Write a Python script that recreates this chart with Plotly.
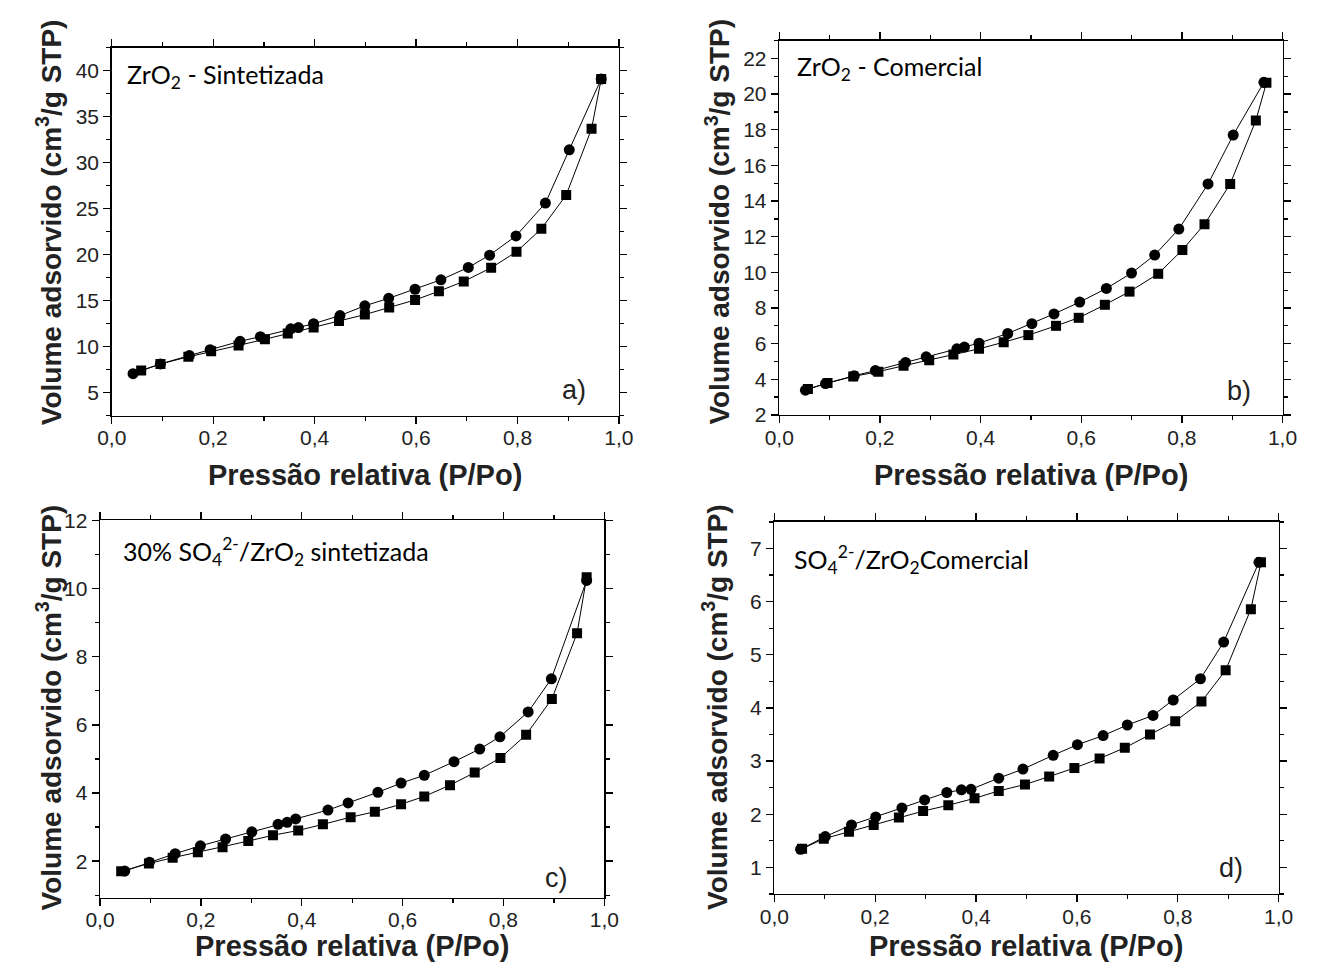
import plotly.graph_objects as go

# ---------------- data ----------------
# a) ZrO2 - Sintetizada
pa_ads = [0.058, 0.096, 0.151, 0.196, 0.250, 0.302, 0.347, 0.398, 0.448, 0.499,
          0.547, 0.598, 0.645, 0.694, 0.748, 0.798, 0.847, 0.896, 0.946, 0.965]
va_ads = [7.40, 8.11, 8.89, 9.49, 10.13, 10.80, 11.43, 12.07, 12.78, 13.48,
          14.26, 15.07, 16.03, 17.09, 18.57, 20.31, 22.82, 26.49, 33.70, 39.11]
pa_des = [0.042, 0.096, 0.153, 0.194, 0.253, 0.293, 0.353, 0.368, 0.398, 0.450,
          0.499, 0.546, 0.598, 0.649, 0.703, 0.745, 0.797, 0.855, 0.902, 0.965]
va_des = [7.05, 8.11, 9.03, 9.67, 10.58, 11.08, 11.93, 12.07, 12.49, 13.38,
          14.44, 15.25, 16.24, 17.27, 18.61, 19.95, 22.04, 25.61, 31.41, 39.11]

# b) ZrO2 - Comercial
pb_ads = [0.057, 0.096, 0.147, 0.197, 0.247, 0.298, 0.346, 0.397, 0.446, 0.495,
          0.550, 0.595, 0.647, 0.696, 0.753, 0.801, 0.845, 0.896, 0.947, 0.968]
vb_ads = [3.46, 3.79, 4.16, 4.43, 4.76, 5.07, 5.39, 5.71, 6.08, 6.48,
          7.00, 7.45, 8.18, 8.92, 9.92, 11.26, 12.70, 14.96, 18.52, 20.63]
pb_des = [0.052, 0.092, 0.149, 0.191, 0.251, 0.292, 0.353, 0.368, 0.397, 0.454,
          0.502, 0.546, 0.597, 0.650, 0.700, 0.746, 0.794, 0.852, 0.902, 0.963]
vb_des = [3.39, 3.76, 4.20, 4.49, 4.95, 5.26, 5.71, 5.81, 6.03, 6.57,
          7.12, 7.67, 8.33, 9.10, 9.96, 10.97, 12.43, 14.96, 17.70, 20.66]

# c) 30% SO4(2-)/ZrO2 sintetizada
pc_ads = [0.042, 0.097, 0.144, 0.194, 0.243, 0.294, 0.343, 0.393, 0.442, 0.497,
          0.545, 0.597, 0.643, 0.694, 0.743, 0.794, 0.845, 0.896, 0.946, 0.965]
vc_ads = [1.70, 1.93, 2.10, 2.26, 2.41, 2.59, 2.76, 2.90, 3.08, 3.29,
          3.45, 3.67, 3.90, 4.23, 4.60, 5.03, 5.71, 6.76, 8.69, 10.33]
pc_des = [0.049, 0.098, 0.149, 0.199, 0.249, 0.301, 0.353, 0.371, 0.388, 0.452,
          0.492, 0.551, 0.597, 0.643, 0.702, 0.753, 0.793, 0.849, 0.895, 0.965]
vc_des = [1.71, 1.97, 2.22, 2.45, 2.65, 2.86, 3.08, 3.14, 3.24, 3.50,
          3.71, 4.02, 4.29, 4.52, 4.92, 5.29, 5.65, 6.38, 7.35, 10.24]

# d) SO4(2-)/ZrO2 Comercial
pd_ads = [0.055, 0.098, 0.148, 0.197, 0.247, 0.295, 0.345, 0.397, 0.445, 0.497,
          0.545, 0.595, 0.645, 0.695, 0.745, 0.795, 0.847, 0.895, 0.945, 0.965]
vd_ads = [1.35, 1.54, 1.67, 1.80, 1.94, 2.06, 2.17, 2.30, 2.44, 2.56,
          2.71, 2.87, 3.05, 3.25, 3.50, 3.75, 4.12, 4.71, 5.86, 6.74]
pd_des = [0.052, 0.101, 0.153, 0.201, 0.253, 0.298, 0.342, 0.371, 0.390, 0.445,
          0.493, 0.553, 0.601, 0.652, 0.700, 0.751, 0.791, 0.845, 0.891, 0.961]
vd_des = [1.34, 1.58, 1.80, 1.95, 2.12, 2.27, 2.41, 2.46, 2.47, 2.68,
          2.85, 3.11, 3.31, 3.48, 3.68, 3.86, 4.15, 4.55, 5.24, 6.74]

panel_titles = ["ZrO<sub>2</sub> - Sintetizada",
                "ZrO<sub>2</sub> - Comercial",
                "30% SO<sub>4</sub><sup>2-</sup>/ZrO<sub>2</sub> sintetizada",
                "SO<sub>4</sub><sup>2-</sup>/ZrO<sub>2</sub>Comercial"]
panel_letters = ["a)", "b)", "c)", "d)"]
x_title = "Pressão relativa (P/Po)"
y_title = "Volume adsorvido (cm<sup>3</sup>/g STP)"

# ---------------- layout geometry ----------------
W, H = 1320, 975


def fx(px):
    return px / W


def fy(py):
    return 1 - py / H


# pixel boxes (left, right, top, bottom)
boxes = [(99, 618, 36.7, 413.3), (782, 1297, 29.3, 412.7),
         (87, 603, 520.7, 907), (777, 1293, 522.3, 903.3)]
y_ranges = [[2.5, 42.5], [2, 23], [0.93, 12], [0.5, 7.5]]
y_dticks = [5, 2, 2, 1]
y_minor = [2.5, 1, 1, 0.5]

series = [(pa_ads, va_ads, pa_des, va_des), (pb_ads, vb_ads, pb_des, vb_des),
          (pc_ads, vc_ads, pc_des, vc_des), (pd_ads, vd_ads, pd_des, vd_des)]

fig = go.Figure()
line = dict(color="black", width=1)
for i, (xa, ya, xd, yd) in enumerate(series):
    sfx = "" if i == 0 else str(i + 1)
    fig.add_trace(go.Scatter(x=xa, y=ya, mode="lines+markers", line=line,
                             marker=dict(symbol="square", size=10, color="black"),
                             xaxis="x" + sfx, yaxis="y" + sfx, showlegend=False))
    fig.add_trace(go.Scatter(x=xd, y=yd, mode="lines+markers", line=line,
                             marker=dict(symbol="circle", size=11, color="black"),
                             xaxis="x" + sfx, yaxis="y" + sfx, showlegend=False))

tickfont = dict(family="Liberation Sans, Arial", size=21, color="#222")
layout = dict(width=W, height=H, autosize=False,
              margin=dict(l=0, r=0, t=0, b=0),
              paper_bgcolor="white", plot_bgcolor="white",
              separators=",.", showlegend=False)

annotations = []
for i, (l, r, t, b) in enumerate(boxes):
    sfx = "" if i == 0 else str(i + 1)
    common = dict(showline=True, linecolor="black", linewidth=1.5, mirror="allticks",
                  ticks="outside", ticklen=7, tickwidth=1.3, tickcolor="black",
                  showgrid=False, zeroline=False, tickfont=tickfont)
    layout["xaxis" + sfx] = dict(common, domain=[fx(l), fx(r)], range=[0, 1],
                                 anchor="y" + sfx, dtick=0.2, tick0=0, tickformat=".1f",
                                 ticklabelstandoff=-4,
                                 minor=dict(ticks="outside", dtick=0.1, ticklen=4,
                                            tickwidth=1.3, tickcolor="black"))
    layout["yaxis" + sfx] = dict(common, domain=[fy(b), fy(t)], range=y_ranges[i],
                                 anchor="x" + sfx, dtick=y_dticks[i], tick0=0,
                                 minor=dict(ticks="outside", dtick=y_minor[i], ticklen=4,
                                            tickwidth=1.3, tickcolor="black"))

# axis titles
xt_pos = [(358, 474), (1040, 474), (345, 957), (1035, 957)]
yt_pos = [(35, 215), (719, 215), (35, 712), (717, 712)]
for (x, y) in xt_pos:
    annotations.append(dict(text="<b>" + x_title + "</b>", xref="paper", yref="paper",
                            x=fx(x), y=fy(y), xanchor="center", yanchor="middle",
                            showarrow=False,
                            font=dict(family="Liberation Sans, Arial", size=29, color="#222")))
for (x, y) in yt_pos:
    annotations.append(dict(text="<b>" + y_title + "</b>", xref="paper", yref="paper",
                            x=fx(x), y=fy(y), xanchor="center", yanchor="middle",
                            textangle=-90, showarrow=False,
                            font=dict(family="Liberation Sans, Arial", size=28, color="#222")))

# sample names
name_pos = [(113, 66), (798, 57), (108, 553), (795, 561)]
for txt, (x, y) in zip(panel_titles, name_pos):
    annotations.append(dict(text=txt, xref="paper", yref="paper",
                            x=fx(x), y=fy(y), xanchor="left", yanchor="middle",
                            showarrow=False,
                            font=dict(family="Lato, Noto Sans", size=25, color="black")))

# panel letters
letter_pos = [(586, 387), (1267, 388), (568, 887), (1259, 877)]
for txt, (x, y) in zip(panel_letters, letter_pos):
    annotations.append(dict(text=txt, xref="paper", yref="paper",
                            x=fx(x), y=fy(y), xanchor="right", yanchor="middle",
                            showarrow=False,
                            font=dict(family="Liberation Sans, Arial", size=27, color="#222")))

layout["annotations"] = annotations
fig.update_layout(**layout)
fig.write_html("out.html",
               config={"displayModeBar": False, "staticPlot": True},
               post_script="document.body.style.margin='0';"
                           "document.documentElement.style.overflow='hidden';")
